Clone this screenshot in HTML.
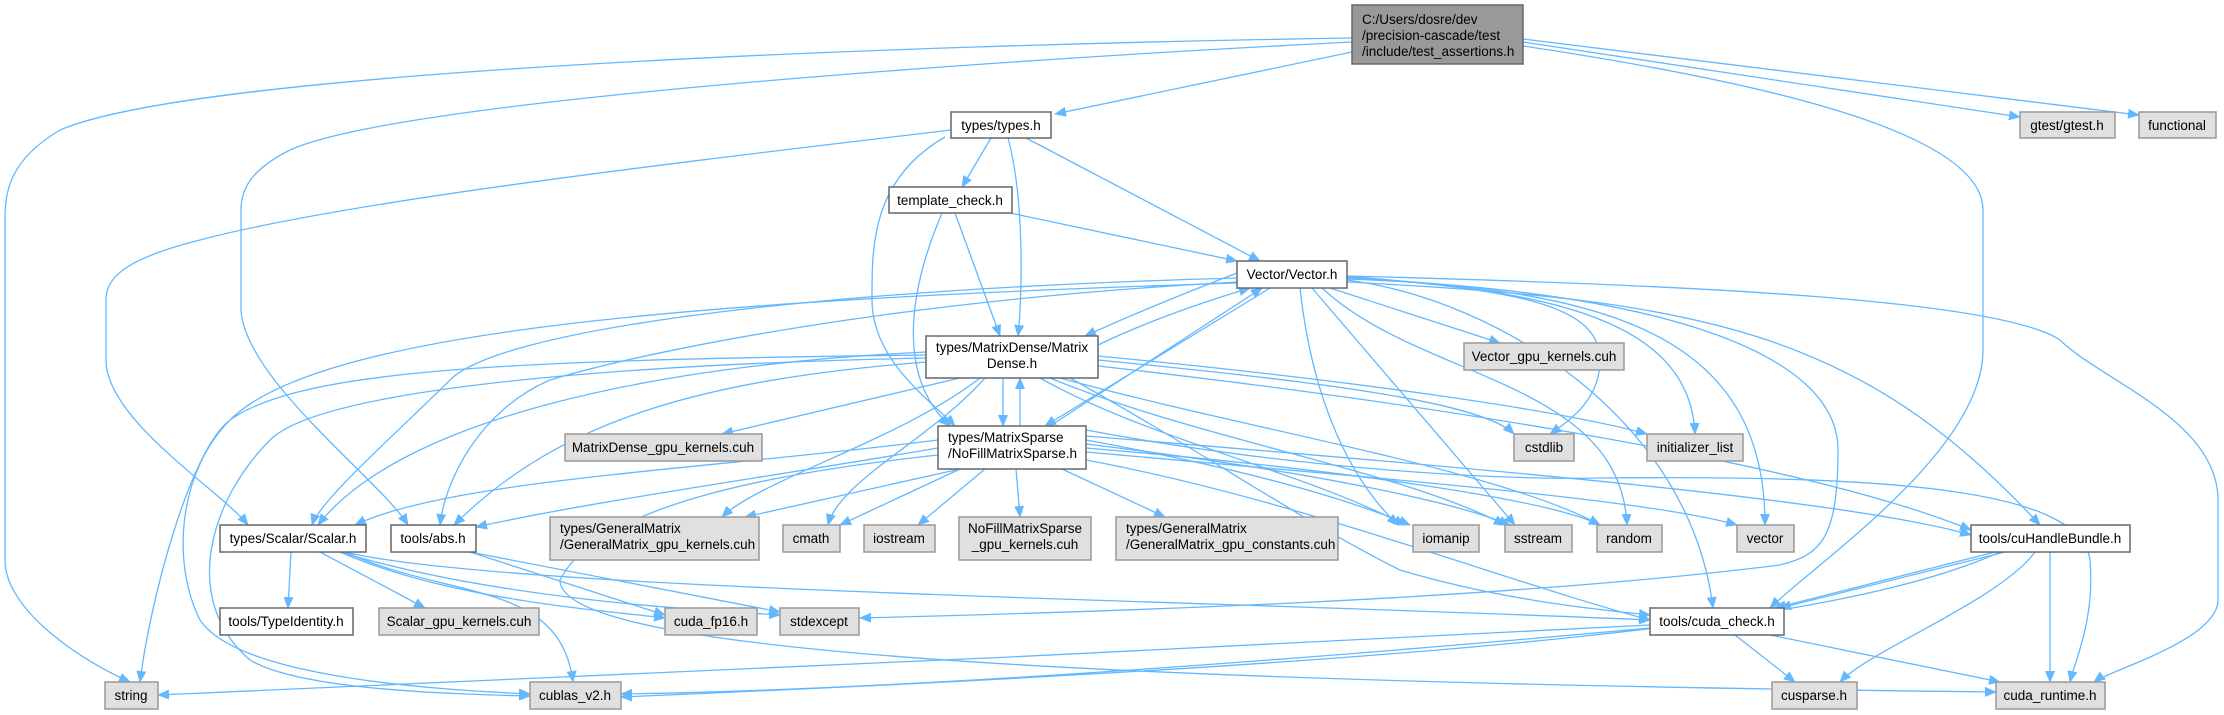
<!DOCTYPE html>
<html><head><meta charset="utf-8"><style>
html,body{margin:0;padding:0;background:#fff;}
svg{display:block;}
text{font-family:"Liberation Sans",sans-serif;font-size:13.5px;fill:#000;}
.e{fill:none;stroke:#63b8ff;stroke-width:1.3;}
.w{fill:#fff;stroke:#666;stroke-width:1.5;}
.g{fill:#e0e0e0;stroke:#999;stroke-width:1.5;}
.m{fill:#999;stroke:#666;stroke-width:1.5;}
</style></head><body>
<svg width="2224" height="715" viewBox="0 0 2224 715" xmlns="http://www.w3.org/2000/svg">
<defs><marker id="a" markerWidth="12" markerHeight="10" refX="11" refY="5" orient="auto" markerUnits="userSpaceOnUse"><path d="M0,0 L12,5 L0,10 z" fill="#63b8ff"/></marker></defs>
<g class="e" marker-end="url(#a)">
<path d="M1352,38 C900,45 200,70 60,130 C10,160 5,190 5,220 L5,560 C5,610 80,660 130,682"/>
<path d="M1352,42 C1000,60 400,100 290,150 C250,170 241,190 241,210 L241,310 C245,380 380,480 408,525"/>
<path d="M1352,52 L1055,114"/>
<path d="M1523,42 L2020,117"/>
<path d="M1523,39 L2139,115"/>
<path d="M1523,46 C1750,80 1983,130 1983,210 L1983,350 C1983,450 1820,560 1770,608"/>
<path d="M951,130 C700,160 350,200 200,240 C120,260 106,280 106,300 L106,360 C106,420 220,490 248,525"/>
<path d="M991,138 L962,187"/>
<path d="M1008,138 C1025,200 1022,300 1018,336"/>
<path d="M945,137 C870,180 872,250 872,300 C872,360 930,400 955,426"/>
<path d="M1026,138 L1260,261"/>
<path d="M1010,213 L1237,261"/>
<path d="M955,213 L1000,336"/>
<path d="M942,213 C905,300 900,380 950,426"/>
<path d="M1347,276 C1500,290 1600,300 1600,360 C1600,400 1570,420 1550,434"/>
<path d="M1347,277 C1550,290 1690,320 1695,434"/>
<path d="M1347,278 C1600,290 1765,330 1765,525"/>
<path d="M1300,288 C1310,380 1340,470 1398,525"/>
<path d="M1312,288 L1515,525"/>
<path d="M1322,288 C1420,380 1620,380 1627,525"/>
<path d="M1347,280 C1500,300 1690,420 1713,608"/>
<path d="M1347,282 C1700,300 1860,330 2040,525"/>
<path d="M1347,276 C1700,285 2000,300 2060,340 C2100,380 2218,420 2218,500 L2218,600 C2218,640 2110,670 2094,682"/>
<path d="M1347,279 C1650,290 1838,350 1838,450 C1838,540 1820,555 1780,565 C1500,600 1100,612 860,618"/>
<path d="M1330,288 L1500,343"/>
<path d="M1237,278 C800,290 500,330 450,380 C400,430 320,500 312,525"/>
<path d="M1237,282 C900,300 650,350 550,380 C480,410 445,480 440,525"/>
<path d="M1237,283 C700,300 320,330 230,420 C180,470 170,560 200,620 C240,680 450,690 530,694"/>
<path d="M1237,273 C1180,295 1120,320 1085,336"/>
<path d="M1098,345 C1150,320 1210,300 1250,288"/>
<path d="M1270,288 L1045,426"/>
<path d="M1050,426 L1262,288"/>
<path d="M1003,378 L1003,426"/>
<path d="M1020,426 L1020,378"/>
<path d="M926,355 C500,360 300,370 230,420 C190,450 150,600 140,682"/>
<path d="M926,358 C600,365 320,390 270,440 C210,500 180,600 250,660 C300,690 450,694 530,696"/>
<path d="M926,352 C650,365 400,420 318,525"/>
<path d="M926,362 C700,380 560,420 454,525"/>
<path d="M960,378 L722,434"/>
<path d="M980,378 C900,440 760,480 722,517"/>
<path d="M985,378 C930,440 840,480 828,525"/>
<path d="M1098,360 C1300,380 1480,400 1514,434"/>
<path d="M1098,356 C1350,380 1560,410 1647,434"/>
<path d="M1040,378 C1150,440 1300,470 1405,525"/>
<path d="M1050,378 C1200,440 1400,470 1505,525"/>
<path d="M1060,378 C1250,430 1500,470 1600,525"/>
<path d="M1098,366 C1400,400 1800,460 1971,530"/>
<path d="M1070,378 C1200,450 1300,520 1400,570 C1500,600 1600,610 1650,615"/>
<path d="M1086,430 C1300,470 1500,480 1600,478 C1900,475 2080,490 2090,560 C2095,620 2075,660 2070,682"/>
<path d="M938,440 C700,470 450,480 355,525"/>
<path d="M938,448 C750,480 600,500 476,527"/>
<path d="M960,469 L745,517"/>
<path d="M960,469 L840,525"/>
<path d="M985,469 L918,525"/>
<path d="M1016,469 L1020,517"/>
<path d="M1062,469 L1165,517"/>
<path d="M1086,440 C1250,470 1350,500 1410,525"/>
<path d="M1086,444 C1300,470 1450,500 1510,525"/>
<path d="M1086,448 C1350,470 1550,500 1600,525"/>
<path d="M1086,452 C1400,480 1650,500 1737,525"/>
<path d="M1086,436 C1500,470 1850,500 1971,535"/>
<path d="M1086,460 C1300,500 1500,580 1650,620"/>
<path d="M938,455 C800,470 600,500 560,580 C560,640 900,680 1996,692"/>
<path d="M291,552 L288,608"/>
<path d="M320,552 L425,608"/>
<path d="M340,552 C450,600 600,610 665,618"/>
<path d="M340,552 C500,600 700,610 780,615"/>
<path d="M345,552 C450,600 560,580 573,682"/>
<path d="M345,552 C500,590 1200,600 1650,620"/>
<path d="M470,552 L665,615"/>
<path d="M470,552 L780,612"/>
<path d="M1650,625 C1200,650 500,680 158,695"/>
<path d="M1650,628 C1300,660 900,690 621,694"/>
<path d="M1735,635 L1795,682"/>
<path d="M1770,635 L2000,682"/>
<path d="M1995,552 L1775,608"/>
<path d="M2005,552 L1780,608"/>
<path d="M2000,552 C1850,620 1500,660 621,697"/>
<path d="M2035,552 C2000,600 1870,650 1840,682"/>
<path d="M2050,552 L2050,682"/>
</g>
<rect class="m" x="1352" y="5" width="171" height="59"/>
<text x="1362" y="24">C:/Users/dosre/dev</text>
<text x="1362" y="40">/precision-cascade/test</text>
<text x="1362" y="56">/include/test_assertions.h</text>
<rect class="g" x="2020" y="112" width="95" height="26"/><text x="2067" y="130" text-anchor="middle">gtest/gtest.h</text>
<rect class="g" x="2139" y="112" width="77" height="26"/><text x="2177" y="130" text-anchor="middle">functional</text>
<rect class="w" x="951" y="112" width="100" height="26"/><text x="1001" y="130" text-anchor="middle">types/types.h</text>
<rect class="w" x="889" y="187" width="123" height="26"/><text x="950" y="205" text-anchor="middle">template_check.h</text>
<rect class="w" x="1237" y="261" width="110" height="27"/><text x="1292" y="279" text-anchor="middle">Vector/Vector.h</text>
<rect class="g" x="1464" y="343" width="160" height="27"/><text x="1544" y="361" text-anchor="middle">Vector_gpu_kernels.cuh</text>
<rect class="w" x="926" y="336" width="172" height="42"/><text x="1012" y="352" text-anchor="middle">types/MatrixDense/Matrix</text><text x="1012" y="368" text-anchor="middle">Dense.h</text>
<rect class="w" x="938" y="426" width="148" height="43"/><text x="948" y="442">types/MatrixSparse</text><text x="948" y="458">/NoFillMatrixSparse.h</text>
<rect class="g" x="565" y="434" width="197" height="27"/><text x="663" y="452" text-anchor="middle">MatrixDense_gpu_kernels.cuh</text>
<rect class="g" x="1514" y="434" width="60" height="27"/><text x="1544" y="452" text-anchor="middle">cstdlib</text>
<rect class="g" x="1647" y="434" width="96" height="27"/><text x="1695" y="452" text-anchor="middle">initializer_list</text>
<rect class="w" x="220" y="525" width="146" height="27"/><text x="293" y="543" text-anchor="middle">types/Scalar/Scalar.h</text>
<rect class="w" x="391" y="525" width="85" height="27"/><text x="433" y="543" text-anchor="middle">tools/abs.h</text>
<rect class="g" x="550" y="517" width="209" height="43"/><text x="560" y="533">types/GeneralMatrix</text><text x="560" y="549">/GeneralMatrix_gpu_kernels.cuh</text>
<rect class="g" x="783" y="525" width="57" height="27"/><text x="811" y="543" text-anchor="middle">cmath</text>
<rect class="g" x="864" y="525" width="71" height="27"/><text x="899" y="543" text-anchor="middle">iostream</text>
<rect class="g" x="959" y="517" width="132" height="43"/><text x="1025" y="533" text-anchor="middle">NoFillMatrixSparse</text><text x="1025" y="549" text-anchor="middle">_gpu_kernels.cuh</text>
<rect class="g" x="1116" y="517" width="222" height="43"/><text x="1126" y="533">types/GeneralMatrix</text><text x="1126" y="549">/GeneralMatrix_gpu_constants.cuh</text>
<rect class="g" x="1413" y="525" width="66" height="27"/><text x="1446" y="543" text-anchor="middle">iomanip</text>
<rect class="g" x="1505" y="525" width="67" height="27"/><text x="1538" y="543" text-anchor="middle">sstream</text>
<rect class="g" x="1597" y="525" width="65" height="27"/><text x="1629" y="543" text-anchor="middle">random</text>
<rect class="g" x="1737" y="525" width="57" height="27"/><text x="1765" y="543" text-anchor="middle">vector</text>
<rect class="w" x="1971" y="525" width="159" height="27"/><text x="2050" y="543" text-anchor="middle">tools/cuHandleBundle.h</text>
<rect class="w" x="220" y="608" width="133" height="27"/><text x="286" y="626" text-anchor="middle">tools/TypeIdentity.h</text>
<rect class="g" x="379" y="608" width="160" height="27"/><text x="459" y="626" text-anchor="middle">Scalar_gpu_kernels.cuh</text>
<rect class="g" x="665" y="608" width="92" height="27"/><text x="711" y="626" text-anchor="middle">cuda_fp16.h</text>
<rect class="g" x="780" y="608" width="79" height="27"/><text x="819" y="626" text-anchor="middle">stdexcept</text>
<rect class="w" x="1650" y="608" width="134" height="27"/><text x="1717" y="626" text-anchor="middle">tools/cuda_check.h</text>
<rect class="g" x="105" y="682" width="53" height="27"/><text x="131" y="700" text-anchor="middle">string</text>
<rect class="g" x="530" y="682" width="91" height="27"/><text x="575" y="700" text-anchor="middle">cublas_v2.h</text>
<rect class="g" x="1772" y="682" width="85" height="27"/><text x="1814" y="700" text-anchor="middle">cusparse.h</text>
<rect class="g" x="1996" y="682" width="109" height="27"/><text x="2050" y="700" text-anchor="middle">cuda_runtime.h</text>
</svg>
</body></html>
